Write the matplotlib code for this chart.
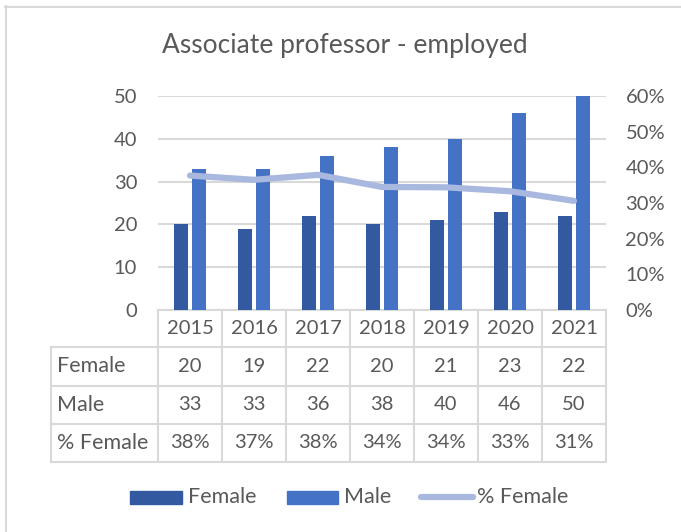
import matplotlib
matplotlib.use("Agg")
import matplotlib.pyplot as plt
from matplotlib.lines import Line2D
from matplotlib.patches import Rectangle
from matplotlib.ticker import FuncFormatter

years = ["2015", "2016", "2017", "2018", "2019", "2020", "2021"]
female = [20, 19, 22, 20, 21, 23, 22]
male = [33, 33, 36, 38, 40, 46, 50]
pct_female = [0.377, 0.365, 0.379, 0.345, 0.344, 0.333, 0.306]
pct_labels = ["38%", "37%", "38%", "34%", "34%", "33%", "31%"]
title = "Associate professor - employed"

C_F = "#335AA1"
C_M = "#4472C4"
C_P = "#A9B8DE"
TXT = "#595959"
GRID = "#D9D9D9"
FONT = ["Lato", "DejaVu Sans"]
plt.rcParams["font.family"] = FONT

W, H = 681, 532
fig = plt.figure(figsize=(W / 100, H / 100), dpi=100)
fig.patch.set_facecolor("white")

# overlay in pixel coords
ov = fig.add_axes([0, 0, 1, 1], zorder=0)
ov.set_xlim(0, W)
ov.set_ylim(H, 0)
ov.axis("off")

L, R, T, B = 158, 606, 96, 310
ax = fig.add_axes([L / W, (H - B) / H, (R - L) / W, (B - T) / H], zorder=2)
ax.patch.set_alpha(0)
x = list(range(len(years)))
bw = 0.22
off = 0.14
ax.bar([i - off for i in x], female, width=bw, color=C_F, zorder=3)
ax.bar([i + off for i in x], male, width=bw, color=C_M, zorder=3)
ax.set_xlim(-0.5, len(years) - 0.5)
ax.set_ylim(0, 50)
ax.set_yticks(range(0, 51, 10))
ax.grid(axis="y", color=GRID, linewidth=1.5, zorder=0)
for s in ax.spines.values():
    s.set_visible(False)
ax.tick_params(axis="y", length=0, pad=15, labelsize=14.5, labelcolor=TXT)
ax.set_xticks([])

ax2 = ax.twinx()
ax2.plot(x, pct_female, color=C_P, linewidth=4.5, solid_capstyle="round",
         solid_joinstyle="round", zorder=4)
ax2.set_ylim(0, 0.6)
ax2.set_yticks([i / 10 for i in range(7)])
ax2.yaxis.set_major_formatter(FuncFormatter(lambda v, p: f"{round(v * 100)}%"))
ax2.tick_params(axis="y", length=0, pad=14, labelsize=14.5, labelcolor=TXT)
for s in ax2.spines.values():
    s.set_visible(False)

# title
ov.text(345, 45, title, ha="center", va="center", fontsize=19, color=TXT)

# outer frame
ov.add_line(Line2D([5.5, 5.5], [6, H], color=GRID, linewidth=1.5))
ov.add_line(Line2D([5, W], [6.5, 6.5], color=GRID, linewidth=1.5))

# data table
bounds = []
for i in range(len(years) + 1):
    px = ax.transData.transform((i - 0.5, 0))[0]
    bounds.append(px)
rows_y = [310, 347, 386, 424, 462]
left_x = 51
lw = 1.5
ov.add_line(Line2D([bounds[0], bounds[-1]], [rows_y[0], rows_y[0]], color=GRID, linewidth=lw))
for yy in rows_y[1:]:
    ov.add_line(Line2D([left_x, bounds[-1]], [yy, yy], color=GRID, linewidth=lw))
for bx in bounds:
    ov.add_line(Line2D([bx, bx], [rows_y[0], rows_y[-1]], color=GRID, linewidth=lw))
ov.add_line(Line2D([left_x, left_x], [rows_y[1], rows_y[-1]], color=GRID, linewidth=lw))

row_names = ["Female", "Male", "% Female"]
row_vals = [[str(v) for v in female], [str(v) for v in male], pct_labels]
for i, yv in enumerate(years):
    cx = (bounds[i] + bounds[i + 1]) / 2
    ov.text(cx, (rows_y[0] + rows_y[1]) / 2, yv, ha="center", va="center",
            fontsize=14.5, color=TXT)
for r, (nm, vals) in enumerate(zip(row_names, row_vals)):
    cy = (rows_y[r + 1] + rows_y[r + 2]) / 2
    ov.text(57, cy, nm, ha="left", va="center", fontsize=15.5, color=TXT)
    for i, v in enumerate(vals):
        cx = (bounds[i] + bounds[i + 1]) / 2
        ov.text(cx, cy, v, ha="center", va="center", fontsize=14.5, color=TXT)

# legend
ly = 497
ov.add_patch(Rectangle((130, 491), 52, 13, color=C_F))
ov.text(188, ly, "Female", ha="left", va="center", fontsize=15.5, color=TXT)
ov.add_patch(Rectangle((287, 491), 51, 13, color=C_M))
ov.text(344, ly, "Male", ha="left", va="center", fontsize=15.5, color=TXT)
ov.add_line(Line2D([421, 473], [ly, ly], color=C_P, linewidth=4.5, solid_capstyle="round"))
ov.text(477, ly, "% Female", ha="left", va="center", fontsize=15.5, color=TXT)

fig.savefig("out.png", dpi=100)
